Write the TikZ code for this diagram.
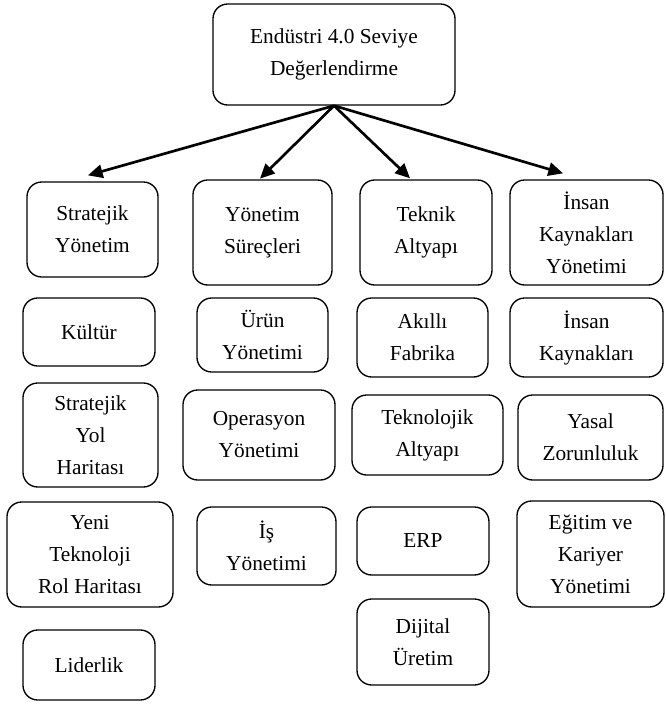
\documentclass[tikz,border=0pt]{standalone}
\usepackage{fontspec}
\setmainfont{Liberation Serif}
\usetikzlibrary{arrows.meta}

\begin{document}
\begin{tikzpicture}[x=0.75pt,y=-0.75pt,
		kutu/.style={draw,line width=1pt,rounded corners=11pt,align=center,inner sep=0pt,
			font=\fontsize{16}{24}\selectfont},
		boyut/.style 2 args={minimum width=#1*0.75pt,minimum height=#2*0.75pt},
		ok/.style={line width=2pt,-{Triangle[length=11pt,width=10pt]}}]
			\useasboundingbox (0,0) rectangle (665,704);
			% ust kutu
			\node[kutu,boyut={242}{101}] (root) at (334,54.5) {Endüstri 4.0 Seviye\\Değerlendirme};

			% 1. sutun
			\node[kutu,boyut={131}{95}]  (st)   at (92.5,229.5) {Stratejik\\Yönetim};
			\node[kutu,boyut={132}{68}]  (kul)  at (89,332)     {Kültür};
			\node[kutu,boyut={135}{104}] (yol)  at (90.5,435)   {Stratejik\\Yol\\Haritası};
			\node[kutu,boyut={166}{105}] (yeni) at (90,554.5)   {Yeni\\Teknoloji\\Rol Haritası};
			\node[kutu,boyut={132}{70}]  (lid)  at (89,665)     {Liderlik};

			% 2. sutun
			\node[kutu,boyut={139}{105}] (ys)   at (262.5,232.5) {Yönetim\\Süreçleri};
			\node[kutu,boyut={131}{74}]  (urun) at (262.5,335)   {Ürün\\Yönetimi};
			\node[kutu,boyut={152}{90}]  (op)   at (259,435)     {Operasyon\\Yönetimi};
			\node[kutu,boyut={139}{78}]  (is)   at (266.5,546)   {İş\\Yönetimi};

			% 3. sutun
			\node[kutu,boyut={132}{105}] (ta)   at (426,232.5)   {Teknik\\Altyapı};
			\node[kutu,boyut={131}{79}]  (ak)   at (422.5,337.5) {Akıllı\\Fabrika};
			\node[kutu,boyut={151}{80}]  (tek)  at (427.5,435)   {Teknolojik\\Altyapı};
			\node[kutu,boyut={132}{68}]  (erp)  at (423,541)     {ERP};
			\node[kutu,boyut={132}{86}]  (dij)  at (423,642)     {Dijital\\Üretim};

			% 4. sutun
			\node[kutu,boyut={153}{105}] (iky)  at (586.5,232.5) {İnsan\\Kaynakları\\Yönetimi};
			\node[kutu,boyut={153}{79}]  (ik)   at (586.5,337.5) {İnsan\\Kaynakları};
			\node[kutu,boyut={145}{85}]  (yas)  at (590.5,437.5) {Yasal\\Zorunluluk};
			\node[kutu,boyut={147}{106}] (egt)  at (590.5,554)   {Eğitim ve\\Kariyer\\Yönetimi};

			% oklar
			\draw[ok] (root.south) -- ([xshift=-3.4pt,yshift=4.5pt]st.north);
			\draw[ok] (root.south) -- ([xshift=-1.9pt,yshift=0.5pt]ys.north);
			\draw[ok] (root.south) -- ([xshift=-12pt,yshift=0.8pt]ta.north);
			\draw[ok] (root.south) -- ([xshift=-17.6pt,yshift=4.5pt]iky.north);
\end{tikzpicture}
\end{document}
